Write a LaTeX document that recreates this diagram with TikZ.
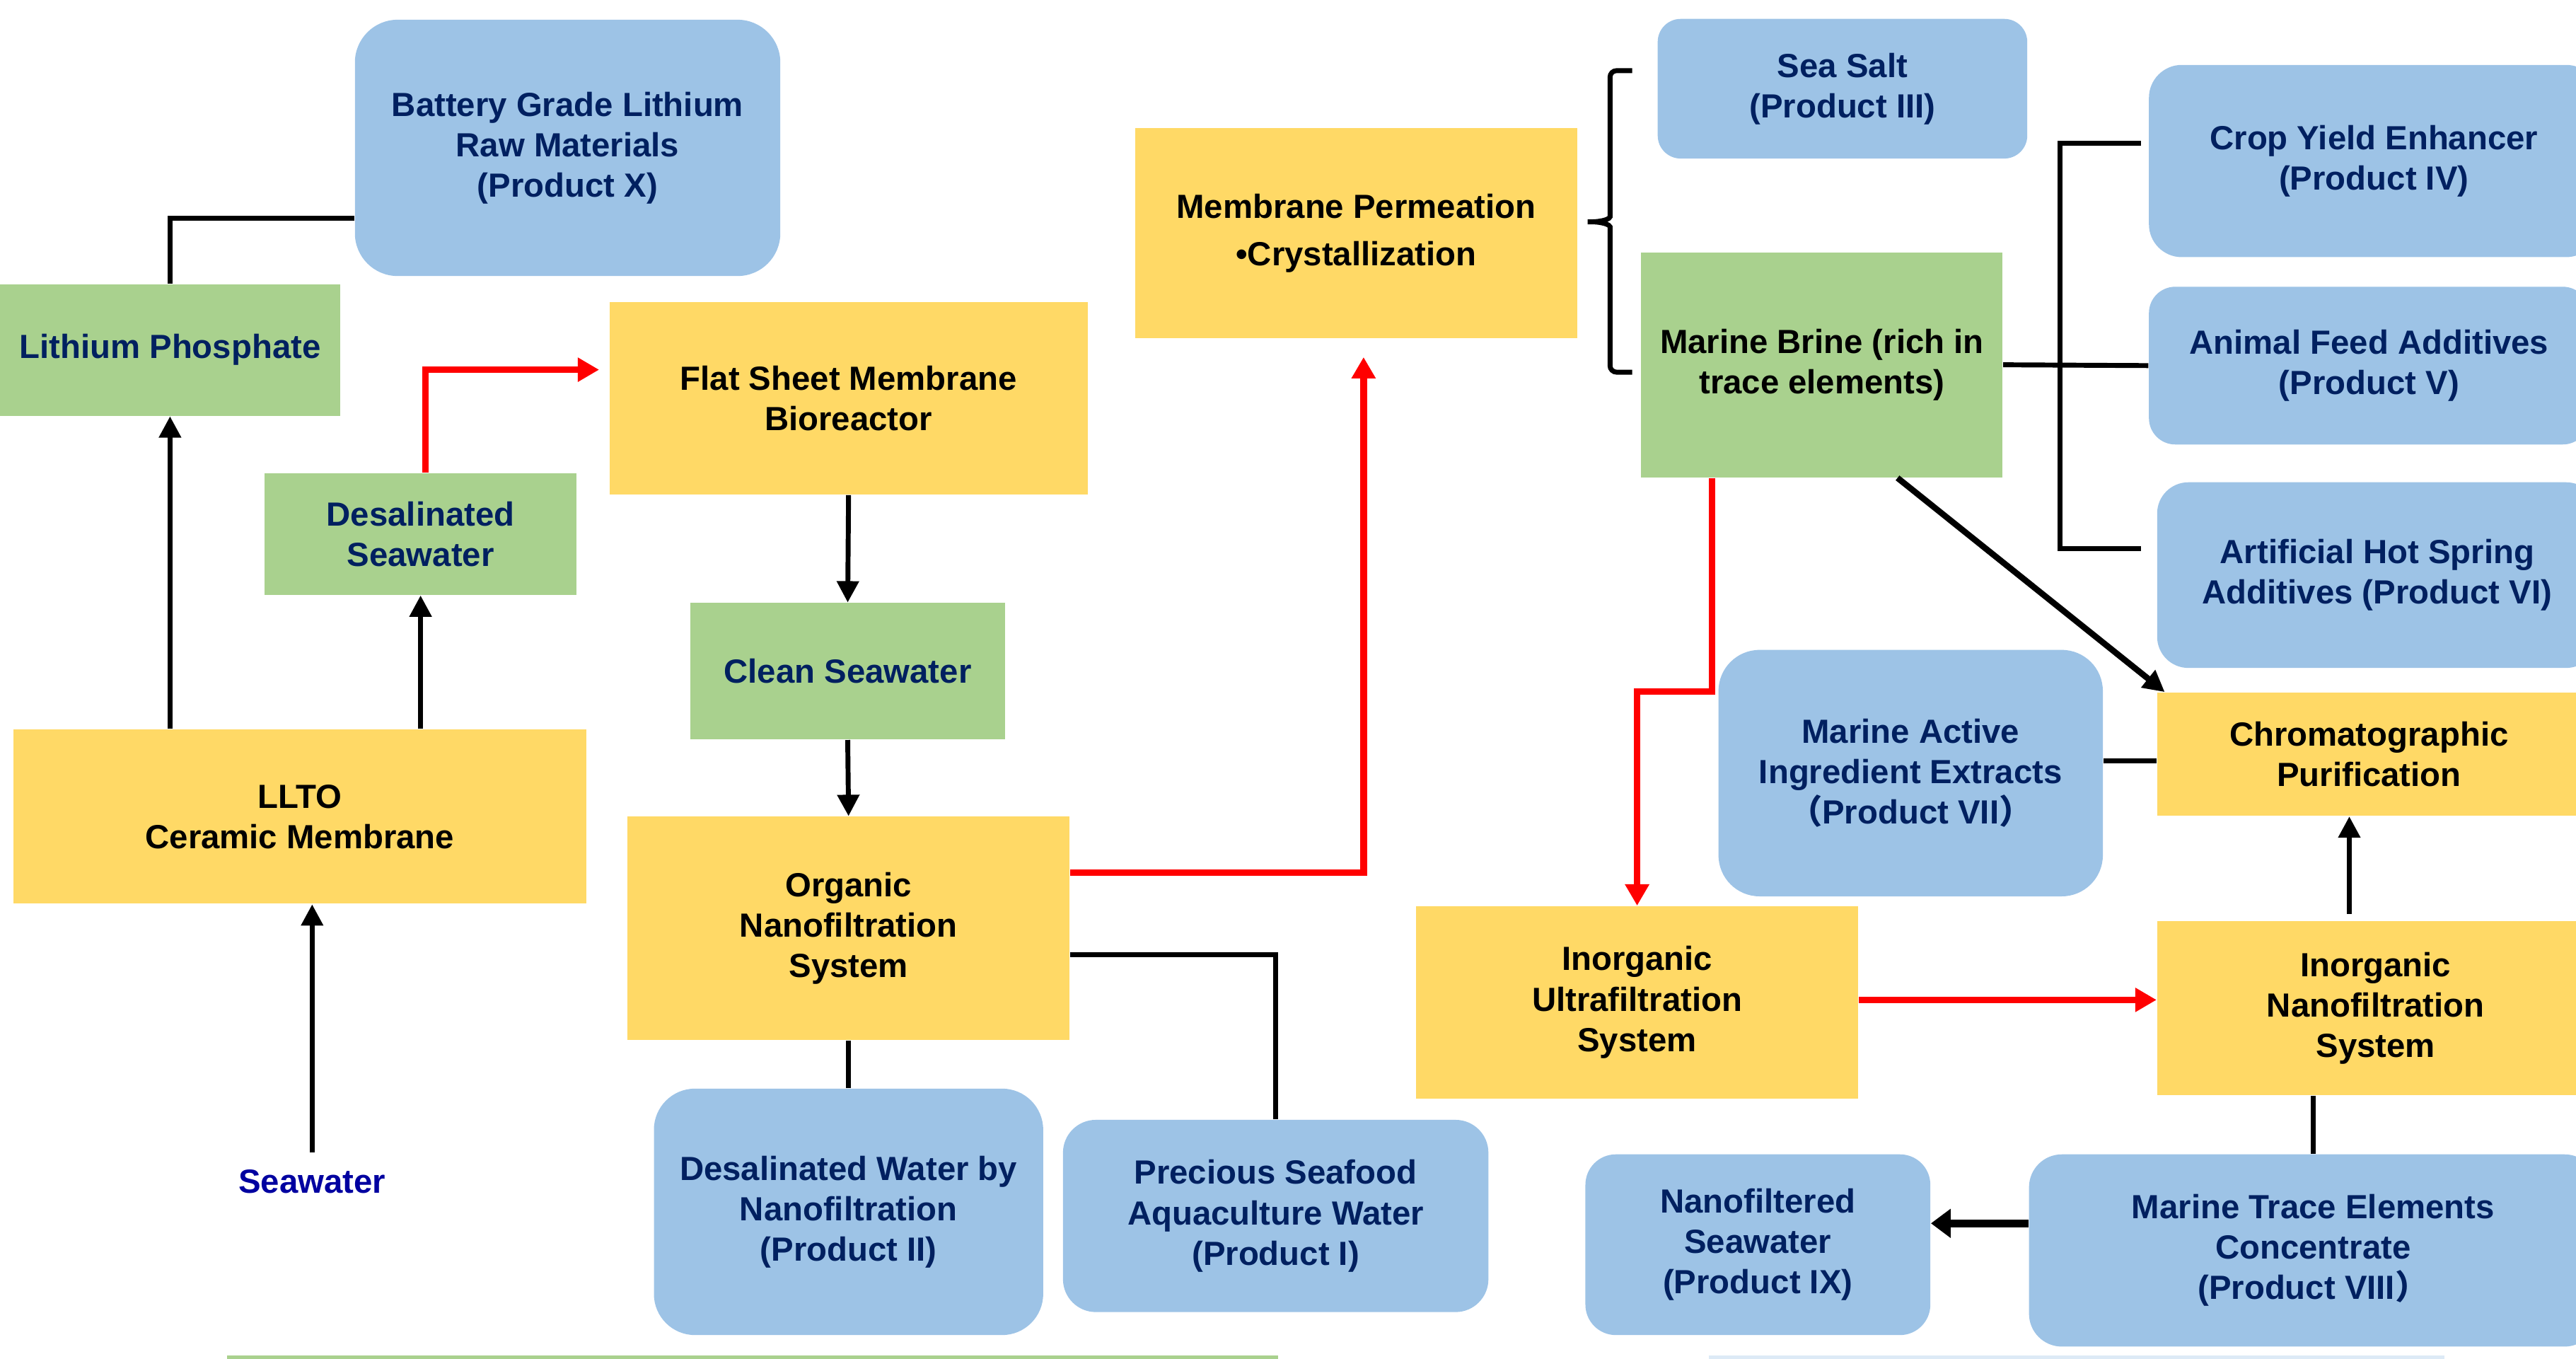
\documentclass[tikz,border=0pt]{standalone}
\usepackage{fontspec}
\setmainfont{Liberation Sans}
\newfontfamily\cjkfont{Noto Sans CJK SC}
\usetikzlibrary{arrows.meta}

\definecolor{prodblue}{HTML}{9DC3E6}
\definecolor{midgreen}{HTML}{A9D18E}
\definecolor{procyellow}{HTML}{FFD966}
\definecolor{navytext}{HTML}{002060}
\definecolor{seablue}{HTML}{0000A0}

\tikzset{
  txt/.style={font=\fontsize{11.6}{14}\selectfont\bfseries, align=center, inner sep=0pt},
  procbox/.style={txt, fill=procyellow, text=black},
  midbox/.style={txt, fill=midgreen, text=navytext},
  prodbox/.style={txt, fill=prodblue, text=navytext, rounded corners=#1},
  conn/.style={line width=1.7pt},
  arr/.style={conn, -{Triangle[length=0.26cm,width=0.26cm]}},
  redarr/.style={line width=2.3pt, red, -{Triangle[length=0.26cm,width=0.28cm]}},
}

\begin{document}
\begin{tikzpicture}[x=0.02cm,y=-0.02cm]
  \useasboundingbox (0,0) rectangle (1568,827);
  \clip (0,0) rectangle (1568,827);

  % lithium branch
  \node[prodbox=0.52cm, minimum width=5.18cm, minimum height=3.12cm] (batt) at (345.5,90) {Battery Grade Lithium\\Raw Materials\\(Product X)};
  \node[midbox, minimum width=4.14cm, minimum height=1.6cm] (liphos) at (103.5,213) {Lithium Phosphate};
  \node[midbox, minimum width=3.8cm, minimum height=1.48cm] (desal) at (256,325) {Desalinated\\Seawater};
  \node[procbox, minimum width=6.98cm, minimum height=2.12cm] (llto) at (182.5,497) {LLTO\\Ceramic Membrane};
  \node[txt, text=seablue] (sea) at (190,719) {Seawater};

  % organic line
  \node[procbox, minimum width=5.82cm, minimum height=2.34cm] (flat) at (516.5,242.5) {Flat Sheet Membrane\\Bioreactor};
  \node[midbox, minimum width=3.84cm, minimum height=1.66cm] (clean) at (516,408.5) {Clean Seawater};
  \node[procbox, minimum width=5.38cm, minimum height=2.72cm] (onf) at (516.5,565) {Organic\\Nanofiltration\\System};
  \node[prodbox=0.5cm, minimum width=4.74cm, minimum height=3cm] (prod2) at (516.5,737.5) {Desalinated Water by\\Nanofiltration\\(Product II)};
  \node[prodbox=0.4cm, minimum width=5.18cm, minimum height=2.34cm] (prod1) at (776.5,740) {Precious Seafood\\Aquaculture Water\\(Product I)};

  % crystallization and brine
  \node[procbox, minimum width=5.38cm, minimum height=2.56cm] (mpc) at (825.5,142) {Membrane Permeation\\[2.5pt]\textbullet Crystallization};
  \node[prodbox=0.28cm, minimum width=4.5cm, minimum height=1.7cm] (salt) at (1121.5,54) {Sea Salt\\(Product III)};
  \node[midbox, text=black, minimum width=4.4cm, minimum height=2.74cm] (brine) at (1109,222) {Marine Brine (rich in\\trace elements)};
  \node[prodbox=0.4cm, minimum width=5.48cm, minimum height=2.34cm] (prod4) at (1445,98) {Crop Yield Enhancer\\(Product IV)};
  \node[prodbox=0.32cm, minimum width=5.36cm, minimum height=1.92cm] (prod5) at (1442,222.5) {Animal Feed Additives\\(Product V)};
  \node[prodbox=0.38cm, minimum width=5.36cm, minimum height=2.26cm] (prod6) at (1447,350) {Artificial Hot Spring\\Additives (Product VI)};

  % inorganic line
  \node[prodbox=0.5cm, minimum width=4.68cm, minimum height=3cm] (prod7) at (1163,470.5) {Marine Active\\Ingredient Extracts\\{\cjkfont （}Product VII{\cjkfont ）}};
  \node[procbox, minimum width=5.16cm, minimum height=1.5cm] (chrom) at (1442,459) {Chromatographic\\Purification};
  \node[procbox, minimum width=5.38cm, minimum height=2.34cm] (iuf) at (996.5,610) {Inorganic\\Ultrafiltration\\System};
  \node[procbox, minimum width=5.32cm, minimum height=2.12cm] (inf) at (1446,613.5) {Inorganic\\Nanofiltration\\System};
  \node[prodbox=0.37cm, minimum width=4.2cm, minimum height=2.2cm] (prod9) at (1070,757.5) {Nanofiltered\\Seawater\\(Product IX)};
  \node[prodbox=0.4cm, minimum width=6.92cm, minimum height=2.34cm] (prod8) at (1408,761) {Marine Trace Elements\\Concentrate\\(Product VIII{\cjkfont ）}};

  % connectors, left part
  \draw[arr, shorten <=0.2cm] (sea.north) -- (sea.north |- llto.south);
  \draw[arr] (llto.north -| liphos.south) -- (liphos.south);
  \draw[arr] (desal.south |- llto.north) -- (desal.south);
  \draw[conn] (liphos.north) |- ([yshift=-0.86cm]batt.west);
  \draw[redarr, shorten >=0.12cm] ([xshift=0.06cm]desal.north) |- ([yshift=0.35cm]flat.west);
  \draw[arr] (flat.south) -- (clean.north);
  \draw[arr] (clean.south) -- (onf.north);
  \draw[conn] (onf.south) -- (prod2.north);
  \draw[conn] ([yshift=-0.32cm]onf.east) -| (prod1.north);
  \draw[redarr, shorten >=0.22cm] ([yshift=0.68cm]onf.east) -| ([xshift=0.09cm]mpc.south);

  % brace and brackets
  \coordinate (bt) at (993.5,43);
  \coordinate (bb) at (993.5,226.5);
  \draw[conn, rounded corners=0.08cm] (bt) -- (980,43) -- (980,128)
    .. controls (980,133) and (976,135) .. (964,135)
    .. controls (976,135) and (980,137) .. (980,142) -- (980,226.5) -- (bb);
  \draw[conn] (brine.east) -- (prod5.west);
  \coordinate (kt) at (1303,87);
  \coordinate (kb) at (1303,334);
  \draw[conn] (kt) -- ++(-49,0) |- (kb);

  % connectors, right part
  \draw[arr, line width=2.1pt] ([xshift=0.92cm]brine.south) -- ([xshift=0.1cm]chrom.north west);
  \draw[redarr] ([xshift=-1.34cm]brine.south) -- ++(0,130) -| (iuf.north);
  \draw[redarr] ([yshift=0.03cm]iuf.east) -- ([yshift=0.03cm]iuf.east -| inf.west);
  \draw[arr, shorten <=0.08cm] ([xshift=-0.32cm]inf.north) -- ([xshift=-0.32cm]inf.north |- chrom.south);
  \draw[conn] ([yshift=-0.08cm]chrom.west) -- ([yshift=-0.08cm]chrom.west -| prod7.east);
  \draw[conn] (prod8.north |- inf.south) -- (prod8.north);
  \draw[line width=2.8pt, -{Triangle[length=0.24cm,width=0.34cm]}] ([yshift=0.33cm]prod8.west) -- ([yshift=0.33cm]prod8.west -| prod9.east);

  % edges of the boxes below
  \fill[midgreen] (138,825) rectangle (778,830);
  \fill[prodblue!35] (1040,825) rectangle (1488,830);
\end{tikzpicture}
\end{document}
